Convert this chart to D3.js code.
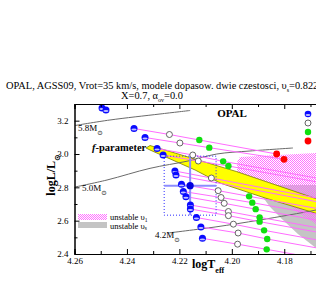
<!DOCTYPE html>
<html>
<head>
<meta charset="utf-8">
<script src="https://cdn.jsdelivr.net/npm/d3@7"></script>
<style>
body { margin: 0; background: #fff; }
svg { display: block; font-family: "Liberation Serif", "Times New Roman", serif; }
</style>
</head>
<body>
<div id="chart"></div>
<script>
// ---- data (logTeff, logL/Lsun) ----
const blueT = [4.2495, 4.2480, 4.2373, 4.2331, 4.2285, 4.2262, 4.2217, 4.2213, 4.2192, 4.2185, 4.2175, 4.2158, 4.2158, 4.2135, 4.2118, 4.2112];
const blueL = [3.276, 3.264, 3.153, 3.099, 3.033, 2.994, 2.898, 2.874, 2.818, 2.775, 2.744, 2.694, 2.670, 2.619, 2.562, 2.494];
const openT = [4.2238, 4.2198, 4.2149, 4.2128, 4.2078, 4.2052, 4.2041, 4.2029, 4.2013, 4.2013, 4.1994, 4.1976, 4.1978];
const openL = [3.117, 3.066, 2.994, 2.958, 2.856, 2.780, 2.739, 2.704, 2.655, 2.630, 2.579, 2.526, 2.459];
const greenT = [4.2124, 4.2086, 4.2033, 4.2013, 4.1934, 4.1922, 4.1909, 4.1894, 4.1894, 4.1877, 4.1865, 4.1867];
const greenL = [3.084, 3.038, 2.956, 2.928, 2.746, 2.708, 2.669, 2.620, 2.594, 2.542, 2.490, 2.428];
const redT = [4.1829, 4.1801];
const redL = [3.000, 2.968];

// pink sequences: which points belong to each line
const lineBlue  = [2, 3, 4, 5, 6, 7, 8, 9, 10, 11, 12, 13, 14, 15];
const lineOpen  = [0, 1, 2, 3, 4, null, 5, 6, 7, 8, 9, 10, 11, 12];
const lineGreen = [0, 1, 2, 3, null, null, 4, 5, 6, 7, 8, 9, 10, 11];
const lineRed   = [0, 1, null, null, null, null, null, null, null, null, null, null, null, null];
const lineEdgeL = [null, null, 2.834, 2.811, 2.713, 2.691, 2.652, 2.617, 2.581, 2.537, 2.510, 2.463, 2.415, 2.353];
const edgeT = 4.16;

// evolutionary tracks
const trackNames = ["5.8", "5.0", "4.2"];
const trackT = [
  [4.2598, 4.2465, 4.2274, 4.2159],
  [4.2598, 4.2476, 4.2312, 4.2167, 4.2057, 4.1931, 4.1767],
  [4.2243, 4.2064, 4.1893, 4.1679, 4.16]
];
const trackL = [
  [3.171, 3.204, 3.240, 3.261],
  [2.802, 2.844, 2.914, 2.958, 3.000, 3.018, 3.036],
  [2.526, 2.562, 2.604, 2.664, 2.692]
];

// f-parameter band
const fT = [4.2327, 4.2312, 4.1981, 4.16, 4.16, 4.1873, 4.2045, 4.2140, 4.2312];
const fL = [3.036, 3.051, 2.894, 2.690, 2.607, 2.736, 2.826, 2.904, 3.024];

// instability regions
const nu1T = [4.1980, 4.1969, 4.1679, 4.16, 4.16, 4.1679, 4.1740, 4.1786, 4.1854, 4.1931, 4.1980];
const nu1L = [2.952, 2.982, 3.006, 3.012, 2.532, 2.580, 2.640, 2.700, 2.748, 2.796, 2.844];
const nusT = [4.1912, 4.1885, 4.1854, 4.1809, 4.1748, 4.1679, 4.16, 4.16];
const nusL = [2.814, 2.748, 2.682, 2.610, 2.520, 2.436, 2.352, 2.814];

// observed star with errors
const starT = 4.2159, starL = 2.810, starDT = 0.0099, starDL = 0.177;

const xMajor = [4.26, 4.24, 4.22, 4.20, 4.18];
const xMinor = [4.25, 4.23, 4.21, 4.19, 4.17];
const yMajor = [2.4, 2.6, 2.8, 3.0, 3.2];
const yMinor = [2.5, 2.7, 2.9, 3.1, 3.3];

function render() {
    const width = 316, height = 289;

    const x = d3.scaleLinear().domain([4.26, 4.16]).range([74.5, 336.7]);
    const y = d3.scaleLinear().domain([2.4, 3.3]).range([254, 104]);

    const svg = d3.select("#chart").append("svg")
        .attr("width", width).attr("height", height)
        .style("background", "#fff");

    const defs = svg.append("defs");
    defs.append("clipPath").attr("id", "plot")
        .append("rect")
        .attr("x", x(4.26)).attr("y", y(3.3))
        .attr("width", x(4.16) - x(4.26)).attr("height", y(2.4) - y(3.3));

    const pat = defs.append("pattern").attr("id", "hatch")
        .attr("patternUnits", "userSpaceOnUse").attr("width", 2).attr("height", 2);
    pat.append("rect").attr("width", 1).attr("height", 1).attr("fill", "#ff70ff");
    pat.append("rect").attr("x", 1).attr("y", 1).attr("width", 1).attr("height", 1).attr("fill", "#ff70ff");

    const area = svg.append("g").attr("clip-path", "url(#plot)");
    const poly = (T, L) => T.map((t, i) => [x(t), y(L[i])]);
    const line = d3.line();
    const smooth = d3.line().curve(d3.curveCatmullRom);

    // unstable regions
    area.append("path")
        .attr("d", line(poly(nusT, nusL)) + "Z")
        .attr("fill", "#c4c4c4");
    area.append("path")
        .attr("d", line(poly(nu1T, nu1L)) + "Z")
        .attr("fill", "url(#hatch)");

    // f-parameter band
    area.append("path")
        .attr("d", line(poly(fT, fL)) + "Z")
        .attr("fill", "#ffff00")
        .attr("stroke", "#7a7a00")
        .attr("stroke-width", 0.8);

    // tracks
    trackT.forEach((T, k) => {
        area.append("path")
            .attr("d", smooth(poly(T, trackL[k])))
            .attr("fill", "none")
            .attr("stroke", "#6a6a6a")
            .attr("stroke-width", 1);
    });

    // pink lines
    lineBlue.forEach((b, i) => {
        const pts = [[blueT[b], blueL[b]]];
        if (lineOpen[i] != null) pts.push([openT[lineOpen[i]], openL[lineOpen[i]]]);
        if (lineGreen[i] != null) pts.push([greenT[lineGreen[i]], greenL[lineGreen[i]]]);
        if (lineRed[i] != null) pts.push([redT[lineRed[i]], redL[lineRed[i]]]);
        else pts.push([edgeT, lineEdgeL[i]]);
        area.append("path")
            .attr("d", line(pts.map(p => [x(p[0]), y(p[1])])))
            .attr("fill", "none")
            .attr("stroke", "#ff6cff")
            .attr("stroke-width", 1);
    });

    // error box and cross
    area.append("rect")
        .attr("x", x(starT + starDT)).attr("y", y(starL + starDL))
        .attr("width", x(starT - starDT) - x(starT + starDT))
        .attr("height", y(starL - starDL) - y(starL + starDL))
        .attr("fill", "none")
        .attr("stroke", "#2a2aff")
        .attr("stroke-width", 1)
        .attr("stroke-dasharray", "1,2");
    area.append("line")
        .attr("x1", x(starT)).attr("x2", x(starT))
        .attr("y1", y(starL + starDL)).attr("y2", y(starL - starDL))
        .attr("stroke", "#8c8cff").attr("stroke-width", 2);
    area.append("line")
        .attr("x1", x(starT + starDT)).attr("x2", x(starT - starDT))
        .attr("y1", y(starL)).attr("y2", y(starL))
        .attr("stroke", "#8c8cff").attr("stroke-width", 2);

    // points
    const blueDot = (g, cx, cy, r) => {
        g.append("circle").attr("cx", cx).attr("cy", cy).attr("r", r).attr("fill", "#0a0aff");
        g.append("ellipse").attr("cx", cx).attr("cy", cy + r * 0.3)
            .attr("rx", r * 0.75).attr("ry", r * 0.28)
            .attr("fill", "#ffffff").attr("opacity", 0.75);
    };
    blueT.forEach((t, i) => blueDot(area, x(t), y(blueL[i]), 3.5));

    area.selectAll("circle.open")
        .data(openT.map((t, i) => [t, openL[i]]))
        .join("circle").attr("class", "open")
        .attr("cx", d => x(d[0])).attr("cy", d => y(d[1])).attr("r", 3)
        .attr("fill", "#fff").attr("stroke", "#555").attr("stroke-width", 0.9);

    area.selectAll("circle.green")
        .data(greenT.map((t, i) => [t, greenL[i]]))
        .join("circle").attr("class", "green")
        .attr("cx", d => x(d[0])).attr("cy", d => y(d[1])).attr("r", 3.2)
        .attr("fill", "#10e010");

    area.selectAll("circle.red")
        .data(redT.map((t, i) => [t, redL[i]]))
        .join("circle").attr("class", "red")
        .attr("cx", d => x(d[0])).attr("cy", d => y(d[1])).attr("r", 3.4)
        .attr("fill", "#ff0000");

    area.append("circle")
        .attr("cx", x(starT)).attr("cy", y(starL)).attr("r", 3.6)
        .attr("fill", "#0000e0");

    // axes
    const axes = svg.append("g");
    const styleAxis = g => {
        g.selectAll("path.domain").attr("stroke", "#000").attr("stroke-width", 1);
        g.selectAll("line").attr("stroke", "#000");
        g.selectAll("text").style("font-size", "9px").style("font-family", "'Liberation Serif', serif").attr("fill", "#000");
    };
    axes.append("g").attr("transform", `translate(0,${y(2.4)})`)
        .call(d3.axisBottom(x).tickValues(xMajor).tickSize(-5).tickPadding(4).tickFormat(d3.format(".2f")))
        .call(styleAxis);
    axes.append("g").attr("transform", `translate(0,${y(2.4)})`)
        .call(d3.axisBottom(x).tickValues(xMinor).tickSize(-3).tickFormat(""))
        .call(styleAxis);
    axes.append("g").attr("transform", `translate(0,${y(3.3)})`)
        .call(d3.axisTop(x).tickValues(xMajor).tickSize(-5).tickFormat(""))
        .call(styleAxis);
    axes.append("g").attr("transform", `translate(0,${y(3.3)})`)
        .call(d3.axisTop(x).tickValues(xMinor).tickSize(-3).tickFormat(""))
        .call(styleAxis);
    axes.append("g").attr("transform", `translate(${x(4.26)},0)`)
        .call(d3.axisLeft(y).tickValues(yMajor).tickSize(-5).tickPadding(6).tickFormat(d3.format(".1f")))
        .call(styleAxis);
    axes.append("g").attr("transform", `translate(${x(4.26)},0)`)
        .call(d3.axisLeft(y).tickValues(yMinor).tickSize(-3).tickFormat(""))
        .call(styleAxis);

    // titles
    svg.append("text")
        .attr("x", 6).attr("y", 89)
        .style("font-size", "10.4px")
        .html('OPAL, AGSS09, Vrot=35 km/s, modele dopasow. dwie czestosci, υ<tspan baseline-shift="sub" font-size="6px">s</tspan>=0.8223');
    svg.append("text")
        .attr("x", 152).attr("y", 98.5).attr("text-anchor", "middle")
        .style("font-size", "10.4px")
        .html('X=0.7, α<tspan baseline-shift="sub" font-size="6px">ov</tspan>=0.0');

    svg.append("text")
        .attr("x", 232).attr("y", 116.5).attr("text-anchor", "middle")
        .style("font-size", "11px").style("font-weight", "bold")
        .text("OPAL");

    // axis labels
    svg.append("text")
        .attr("transform", "translate(55,175) rotate(-90)")
        .attr("text-anchor", "middle")
        .style("font-size", "12px").style("font-weight", "bold")
        .html('logL/L<tspan baseline-shift="sub" font-size="8px" font-family="DejaVu Sans">⊙</tspan>');
    svg.append("text")
        .attr("x", 192).attr("y", 268)
        .style("font-size", "12px").style("font-weight", "bold")
        .html('logT<tspan baseline-shift="sub" font-size="8px">eff</tspan>');

    // track labels
    const massPos = [[78, 131], [82, 191], [155, 238]];
    trackNames.forEach((m, k) => {
        svg.append("text")
            .attr("x", massPos[k][0]).attr("y", massPos[k][1])
            .style("font-size", "9px")
            .html(m + 'M<tspan baseline-shift="sub" font-size="6.5px" font-family="DejaVu Sans">⊙</tspan>');
    });

    svg.append("text")
        .attr("x", 92).attr("y", 151)
        .style("font-size", "10.5px").style("font-weight", "bold")
        .html('<tspan font-style="italic">f</tspan>-parameter');

    // legend: unstable regions
    svg.append("rect").attr("x", 78).attr("y", 214).attr("width", 29).attr("height", 6)
        .attr("fill", "url(#hatch)");
    svg.append("rect").attr("x", 78).attr("y", 222).attr("width", 29).attr("height", 6)
        .attr("fill", "#c4c4c4");
    svg.append("text").attr("x", 110).attr("y", 220).style("font-size", "8.5px")
        .html('unstable υ<tspan dy="1.5" font-size="5.5px">1</tspan>');
    svg.append("text").attr("x", 110).attr("y", 228.5).style("font-size", "8.5px")
        .html('unstable υ<tspan dy="1.5" font-size="5.5px">s</tspan>');

    // legend: point kinds (labels fall outside the view)
    blueDot(svg, 308, 114, 3.3);
    svg.append("circle").attr("cx", 308).attr("cy", 123).attr("r", 3)
        .attr("fill", "#fff").attr("stroke", "#555").attr("stroke-width", 0.9);
    svg.append("circle").attr("cx", 308).attr("cy", 132).attr("r", 3.2).attr("fill", "#10e010");
    svg.append("circle").attr("cx", 308).attr("cy", 141).attr("r", 3.4).attr("fill", "#ff0000");
}

render();
</script>
</body>
</html>
